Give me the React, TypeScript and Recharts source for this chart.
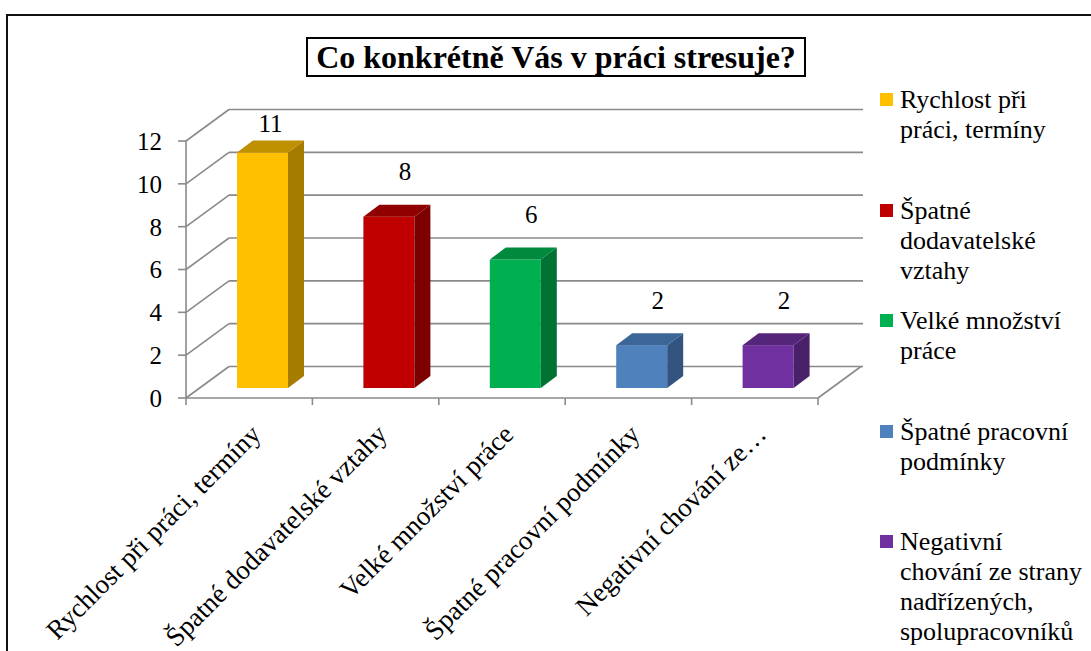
import React from "react"
import { BarChart, Bar, XAxis, YAxis, CartesianGrid, LabelList, Legend } from "recharts"

const categories = [
  "Rychlost při práci, termíny",
  "Špatné dodavatelské vztahy",
  "Velké množství práce",
  "Špatné pracovní podmínky",
  "Negativní chování ze strany nadřízených, spolupracovníků",
]
const axisLabels = [
  "Rychlost při práci, termíny",
  "Špatné dodavatelské vztahy",
  "Velké množství práce",
  "Špatné pracovní podmínky",
  "Negativní chování ze…",
]
const legendLines = [
  ["Rychlost při", "práci, termíny"],
  ["Špatné", "dodavatelské", "vztahy"],
  ["Velké množství", "práce"],
  ["Špatné pracovní", "podmínky"],
  ["Negativní", "chování ze strany", "nadřízených,", "spolupracovníků"],
]
const counts = [11, 8, 6, 2, 2]
const yTicks = [0, 2, 4, 6, 8, 10, 12]

const frontColors = ["#FFC000", "#C00000", "#00B050", "#4F81BD", "#7030A0"]
const sideColors = ["#A67C00", "#7D0000", "#007333", "#345480", "#49206A"]
const topColors = ["#BF9000", "#900000", "#008A3E", "#3C6598", "#55257A"]

const data = categories.map((name, i) => ({ name, axis: axisLabels[i], value: counts[i] }))

// chart geometry
const W = 1091
const H = 651
const PLOT_LEFT = 186
const PLOT_RIGHT = 818
const BAND = (PLOT_RIGHT - PLOT_LEFT) / categories.length
const DX = 43 // depth of the floor / back wall
const DY = 31.5
const SX = 13 // bar sits in the middle of the depth
const SY = 10
const BX = 16 // bar depth
const BY = 12
const GRID = "#8a8a8a"
const FONT = '"Liberation Serif", "Times New Roman", serif'

function GridLine(props: any) {
  const { x1, y1, x2, y2, index } = props
  return (
    <g key={`g-${index}-${y1}`}>
      <line x1={x1} y1={y1} x2={x1 + DX} y2={y1 - DY} stroke={GRID} strokeWidth={1.6} />
      <line x1={x1 + DX} y1={y1 - DY} x2={x2 + DX + 2} y2={y2 - DY} stroke={GRID} strokeWidth={1.6} />
      {Math.abs(y1 - 398) < 2 && (
        <line x1={x2} y1={y1} x2={x2 + DX} y2={y1 - DY} stroke={GRID} strokeWidth={1.6} />
      )}
    </g>
  )
}

function Bar3D(props: any) {
  const { x, y, width, height, index } = props
  const fx = x + SX
  const fy = y - SY
  const b = fy + height
  const r = fx + width
  return (
    <g>
      <rect x={fx} y={fy} width={width} height={height} fill={frontColors[index]} />
      <polygon
        points={`${r},${fy} ${r + BX},${fy - BY} ${r + BX},${b - BY} ${r},${b}`}
        fill={sideColors[index]}
      />
      <polygon
        points={`${fx},${fy} ${fx + BX},${fy - BY} ${r + BX},${fy - BY} ${r},${fy}`}
        fill={topColors[index]}
      />
    </g>
  )
}

function ValueLabel(props: any) {
  const { x, y, width, value, index } = props
  const ty = Math.max(y - SY - 45, 123)
  const tx = x + width / 2 + SX + (index === 0 ? 8 : 16)
  return (
    <text x={tx} y={ty} textAnchor="middle" dominantBaseline="central"
      fontFamily={FONT} fontSize={25} fill="#000">
      {value}
    </text>
  )
}

function CatTick(props: any) {
  const { x, y, payload, index } = props
  const label = axisLabels[index] ?? payload.value
  const left = x - BAND / 2
  const ax = x + 13
  const ay = y + 38
  return (
    <g>
      <line x1={left} y1={y} x2={left} y2={y + 7} stroke={GRID} strokeWidth={1.6} />
      {index === categories.length - 1 && (
        <line x1={x + BAND / 2} y1={y} x2={x + BAND / 2} y2={y + 7} stroke={GRID} strokeWidth={1.6} />
      )}
      <text x={ax} y={ay} textAnchor="end" transform={`rotate(-45 ${ax} ${ay})`}
        fontFamily={FONT} fontSize={27} fill="#000">
        {label}
      </text>
    </g>
  )
}

function LegendBox() {
  return (
    <div style={{ position: "relative", width: 211, height: 560, fontFamily: FONT, fontSize: 26, color: "#000" }}>
      {legendLines.map((lines, i) => (
        <div key={i} style={{ position: "absolute", left: 0, top: i * 110.5 }}>
          <div style={{ position: "absolute", left: 0, top: 8, width: 13, height: 13, background: frontColors[i] }} />
          {lines.map((t, j) => (
            <div key={j} style={{ position: "absolute", left: 20, top: j * 30, lineHeight: "30px", whiteSpace: "nowrap" }}>
              {t}
            </div>
          ))}
        </div>
      ))}
    </div>
  )
}

export default function App() {
  return (
    <div style={{ position: "absolute", left: 0, top: 0, width: W, height: H, overflow: "hidden", background: "#fff" }}>
      <div style={{ position: "absolute", left: 6, top: 14, width: 1200, height: 800, border: "2px solid #111" }} />
      <div style={{
        position: "absolute", left: 306, top: 37, width: 496, height: 36, border: "2px solid #000",
        fontFamily: FONT, fontWeight: "bold", fontSize: 32, lineHeight: "37px", textAlign: "center", color: "#000",
        whiteSpace: "nowrap",
      }}>
        Co konkrétně Vás v práci stresuje?
      </div>
      <BarChart
        width={W}
        height={H}
        data={data}
        barSize={51}
        margin={{ top: 141, right: W - PLOT_RIGHT, bottom: 213, left: PLOT_LEFT - 60 }}
        style={{ position: "absolute", left: 0, top: 0 }}
      >
        <CartesianGrid vertical={false} horizontal={(p: any) => <GridLine {...p} />} />
        <XAxis dataKey="name" height={40} interval={0} tickLine={false} tickSize={0} tickMargin={0}
          axisLine={{ stroke: GRID, strokeWidth: 1.6 }} tick={<CatTick />} />
        <YAxis width={60} domain={[0, 12]} ticks={yTicks} interval={0} tickSize={8} tickMargin={16}
          axisLine={{ stroke: GRID, strokeWidth: 1.6 }} tickLine={{ stroke: GRID, strokeWidth: 1.6 }}
          tick={{ fontFamily: FONT, fontSize: 25, fill: "#000" }} />
        <Legend layout="horizontal" align="center" verticalAlign="middle" content={<LegendBox />}
          wrapperStyle={{ left: 880, top: 85, width: 211 }} />
        <Bar dataKey="value" isAnimationActive={false} shape={<Bar3D />}>
          <LabelList dataKey="value" content={<ValueLabel />} />
        </Bar>
      </BarChart>
    </div>
  )
}
